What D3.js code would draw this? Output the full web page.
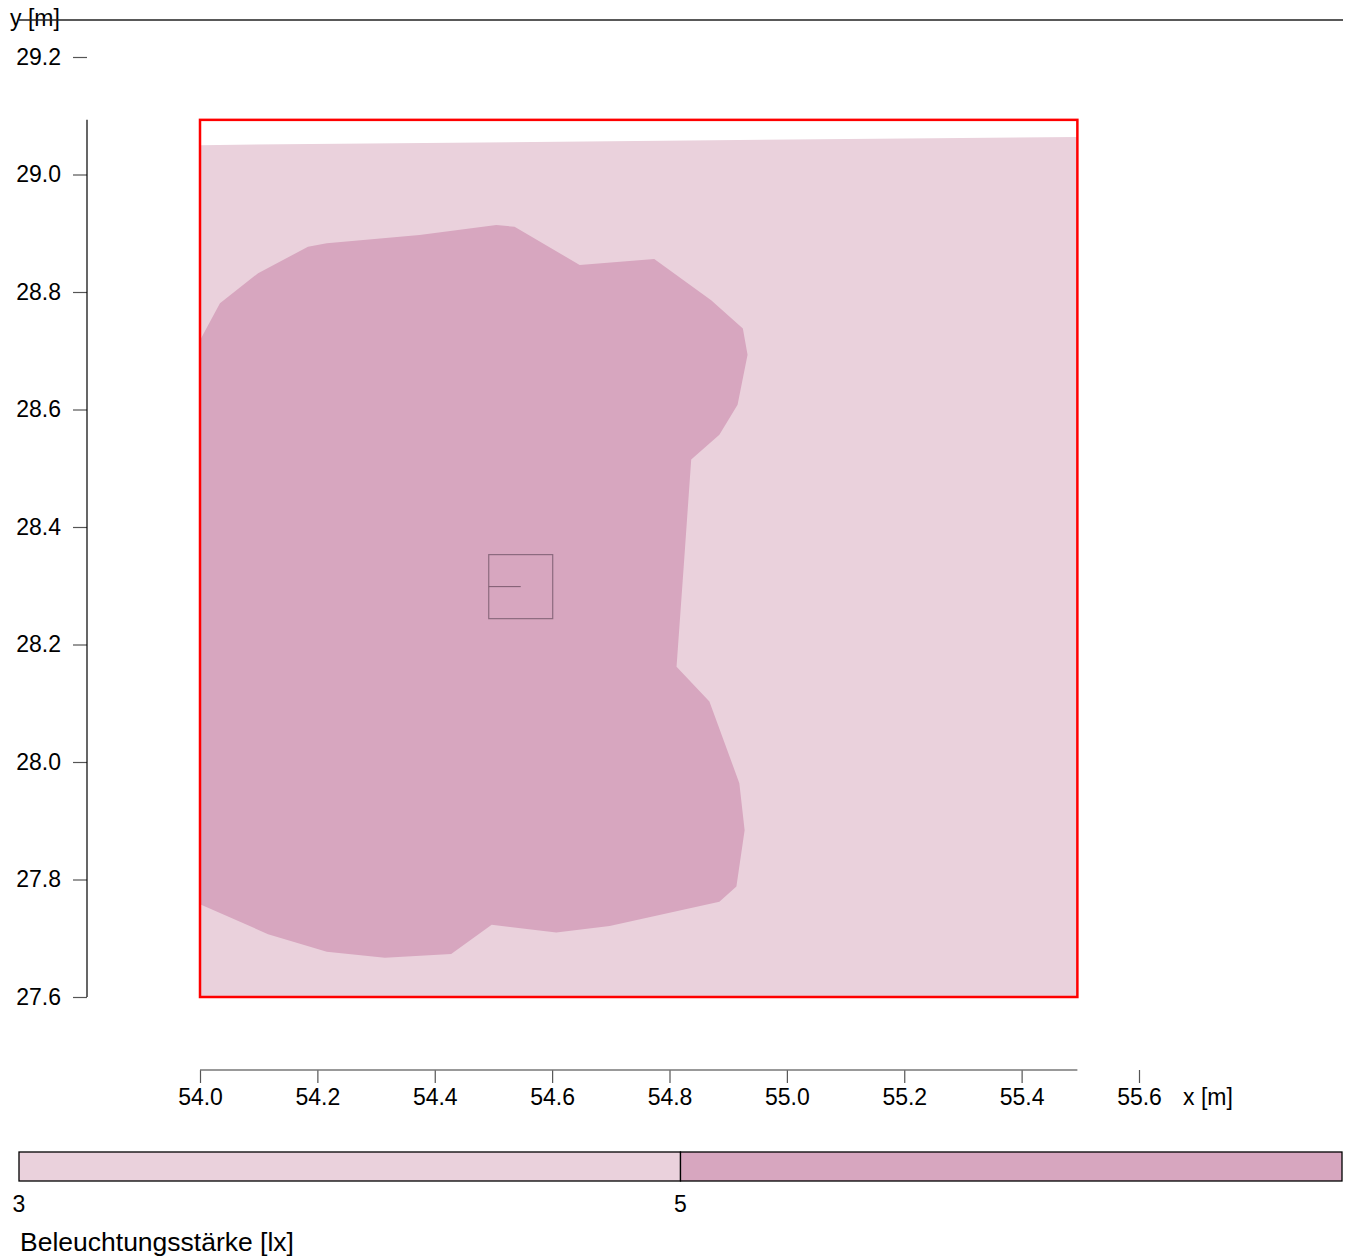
<!DOCTYPE html>
<html>
<head>
<meta charset="utf-8">
<script src="https://cdn.jsdelivr.net/npm/d3@7"></script>
<style>
  html, body { margin: 0; padding: 0; background: #fff; }
  svg { display: block; font-family: "Liberation Sans", Arial, sans-serif; }
</style>
</head>
<body>
<svg id="chart" width="1348" height="1257"></svg>
<script>
// Axis ticks (metres)
const xTicks = [54.0, 54.2, 54.4, 54.6, 54.8, 55.0, 55.2, 55.4, 55.6];
const yTicks = [27.6, 27.8, 28.0, 28.2, 28.4, 28.6, 28.8, 29.0, 29.2];

// Room outline (metres)
const roomX = [54.0, 55.495];
const roomY = [27.6, 29.093];

// Calculated area (3–5 lx band): upper boundary of the evaluation grid
const gridTopEdge = [[54.0, 29.050], [55.495, 29.064]];

// Isoline area >= 5 lx (x, y in metres)
const iso5 = [
  [54.000, 28.718], [54.034, 28.781], [54.099, 28.832], [54.184, 28.877],
  [54.216, 28.883], [54.374, 28.897], [54.505, 28.914], [54.536, 28.911],
  [54.647, 28.846], [54.774, 28.856], [54.871, 28.786], [54.925, 28.738],
  [54.933, 28.693], [54.916, 28.608], [54.885, 28.557], [54.837, 28.515],
  [54.825, 28.344], [54.812, 28.162], [54.868, 28.103], [54.919, 27.964],
  [54.928, 27.884], [54.914, 27.788], [54.885, 27.762], [54.698, 27.721],
  [54.607, 27.710], [54.497, 27.723], [54.428, 27.673], [54.315, 27.667],
  [54.216, 27.677], [54.116, 27.707], [54.000, 27.758]
];

// Luminaire symbol: centre and half width (metres)
const lumCentre = [54.5465, 28.2985];
const lumHalf = 0.0545;

// Legend: illuminance classes [lx]
const legendBounds = [3, 5, 7];
const legendColors = ["#ead1dc", "#d7a6bf"];
const legendTicks = [3, 5];

const svg = d3.select("#chart");
const font = 23;

const x = d3.scaleLinear().domain([54.0, 55.6]).range([200, 1139]);
const y = d3.scaleLinear().domain([27.6, 29.2]).range([997, 57]);

// Lower band (3–5 lx) covering the evaluated part of the room
const band = [
  [roomX[0], roomY[0]], gridTopEdge[0], gridTopEdge[1], [roomX[1], roomY[0]]
];
const line = d3.line().x(d => x(d[0])).y(d => y(d[1]));
svg.append("path")
  .attr("d", line(band) + "Z")
  .attr("fill", legendColors[0]);

// Upper band (>= 5 lx)
svg.append("path")
  .attr("d", line(iso5) + "Z")
  .attr("fill", legendColors[1]);

// Luminaire
const lx0 = x(lumCentre[0] - lumHalf), lx1 = x(lumCentre[0] + lumHalf);
const ly0 = y(lumCentre[1] + lumHalf), ly1 = y(lumCentre[1] - lumHalf);
svg.append("rect")
  .attr("x", lx0).attr("y", ly0)
  .attr("width", lx1 - lx0).attr("height", ly1 - ly0)
  .attr("fill", "none")
  .attr("stroke", "#8c6a7e")
  .attr("stroke-width", 1.2);
svg.append("line")
  .attr("x1", lx0).attr("x2", x(lumCentre[0]))
  .attr("y1", y(lumCentre[1])).attr("y2", y(lumCentre[1]))
  .attr("stroke", "#7c5a6e")
  .attr("stroke-width", 1);

// Room outline
svg.append("rect")
  .attr("x", x(roomX[0])).attr("y", y(roomY[1]))
  .attr("width", x(roomX[1]) - x(roomX[0]))
  .attr("height", y(roomY[0]) - y(roomY[1]))
  .attr("fill", "none")
  .attr("stroke", "#ff0000")
  .attr("stroke-width", 2.5);

// Y axis
const yAxisX = 87;
const yAxis = d3.axisLeft(y).tickValues(yTicks).tickFormat(d3.format(".1f"))
  .tickSize(14).tickPadding(12);
const gy = svg.append("g").attr("transform", `translate(${yAxisX},0)`).call(yAxis);
gy.select(".domain").remove();
gy.selectAll(".tick line").attr("stroke", "#555").attr("stroke-width", 1.2);
gy.selectAll(".tick text").attr("font-size", font).attr("fill", "#000")
  .attr("font-family", "Liberation Sans, Arial, sans-serif");
svg.append("line")
  .attr("x1", yAxisX).attr("x2", yAxisX)
  .attr("y1", y(roomY[1])).attr("y2", y(roomY[0]))
  .attr("stroke", "#000").attr("stroke-width", 1.2);

// X axis
const xAxisY = 1070;
const xAxis = d3.axisBottom(x).tickValues(xTicks).tickFormat(d3.format(".1f"))
  .tickSize(13).tickPadding(6);
const gx = svg.append("g").attr("transform", `translate(0,${xAxisY})`).call(xAxis);
gx.select(".domain").remove();
gx.selectAll(".tick line").attr("stroke", "#555").attr("stroke-width", 1.2);
gx.selectAll(".tick text").attr("font-size", font).attr("fill", "#000")
  .attr("font-family", "Liberation Sans, Arial, sans-serif");
svg.append("line")
  .attr("x1", x(roomX[0])).attr("x2", x(roomX[1]))
  .attr("y1", xAxisY).attr("y2", xAxisY)
  .attr("stroke", "#777").attr("stroke-width", 1.5);

// Axis titles
svg.append("text")
  .attr("x", 1183).attr("y", 1105)
  .attr("font-size", font).text("x [m]");
svg.append("text")
  .attr("x", 10).attr("y", 26)
  .attr("font-size", font).text("y [m]");
svg.append("line")
  .attr("x1", 19).attr("x2", 1343).attr("y1", 20).attr("y2", 20)
  .attr("stroke", "#222").attr("stroke-width", 1.6);

// Legend colour bar
const c = d3.scaleLinear().domain([legendBounds[0], legendBounds[legendBounds.length - 1]])
  .range([19, 1342]);
const barY = 1152, barH = 29;
const legend = svg.append("g");
legend.selectAll("rect.cls")
  .data(legendColors)
  .join("rect")
  .attr("class", "cls")
  .attr("x", (d, i) => c(legendBounds[i]))
  .attr("width", (d, i) => c(legendBounds[i + 1]) - c(legendBounds[i]))
  .attr("y", barY).attr("height", barH)
  .attr("fill", d => d)
  .attr("stroke", "#000").attr("stroke-width", 1.3);
legend.selectAll("text.tick")
  .data(legendTicks)
  .join("text")
  .attr("class", "tick")
  .attr("x", d => c(d)).attr("y", 1212)
  .attr("text-anchor", "middle")
  .attr("font-size", font)
  .text(d => d);
legend.append("text")
  .attr("x", 20).attr("y", 1251)
  .attr("font-size", 26.5)
  .text("Beleuchtungsstärke [lx]");
</script>
</body>
</html>
